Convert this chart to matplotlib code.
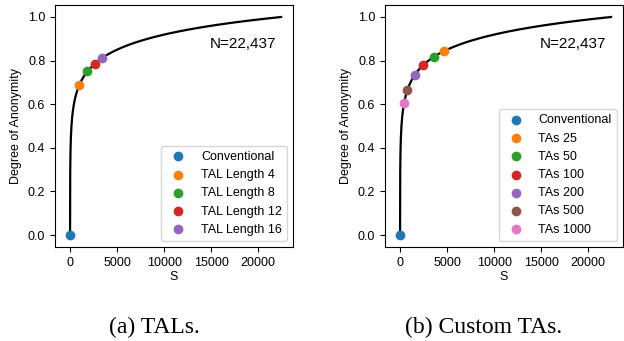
import numpy as np
import matplotlib.pyplot as plt

# データ
N = 22437
tal_labels = ['Conventional', 'TAL Length 4', 'TAL Length 8', 'TAL Length 12', 'TAL Length 16']
tal_s = [1, 1000, 1840, 2630, 3400]
tal_deg = [0.0, 0.69, 0.75, 0.785, 0.81]

ta_labels = ['Conventional', 'TAs 25', 'TAs 50', 'TAs 100', 'TAs 200', 'TAs 500', 'TAs 1000']
ta_s = [1, 4690, 3630, 2470, 1550, 770, 430]
ta_deg = [0.0, 0.843, 0.818, 0.78, 0.733, 0.663, 0.605]

colors = ['#1f77b4', '#ff7f0e', '#2ca02c', '#d62728', '#9467bd', '#8c564b', '#e377c2']

plt.rcParams['font.family'] = ['Liberation Sans', 'DejaVu Sans']
plt.rcParams['font.size'] = 9


# 匿名度の曲線と点を描く関数
def draw_panel(ax, s_vals, deg_vals, labels):
    s = np.linspace(1, N, 4000)
    ax.plot(s, np.log(s) / np.log(N), color='black', lw=1.6, zorder=1)
    for i in range(len(labels)):
        ax.scatter(s_vals[i], deg_vals[i], color=colors[i], label=labels[i], zorder=2)
    ax.text(0.93, 0.84, 'N=22,437', transform=ax.transAxes, ha='right', va='center', fontsize=11)
    ax.set_xlabel('S', labelpad=2)
    ax.set_ylabel('Degree of Anonymity')
    ax.set_ylim(-0.055, 1.055)
    ax.set_xlim(-1600, 23700)
    ax.set_xticks([0, 5000, 10000, 15000, 20000])
    ax.set_yticks([0.0, 0.2, 0.4, 0.6, 0.8, 1.0])
    ax.legend(loc='lower right', fontsize=9, handletextpad=0.8)


fig = plt.figure(figsize=(6.24, 3.41), dpi=100)
ax1 = fig.add_axes([55 / 624, 94 / 341, 238 / 624, 242 / 341])
ax2 = fig.add_axes([385 / 624, 94 / 341, 238 / 624, 242 / 341])

draw_panel(ax1, tal_s, tal_deg, tal_labels)
draw_panel(ax2, ta_s, ta_deg, ta_labels)

# サブ図のキャプション
fig.text(154 / 624, 1 - 327 / 341, '(a) TALs.', ha='center', va='center',
         fontsize=17, family='Liberation Serif')
fig.text(484 / 624, 1 - 327 / 341, '(b) Custom TAs.', ha='center', va='center',
         fontsize=17, family='Liberation Serif')

fig.savefig('out.png', dpi=100)
